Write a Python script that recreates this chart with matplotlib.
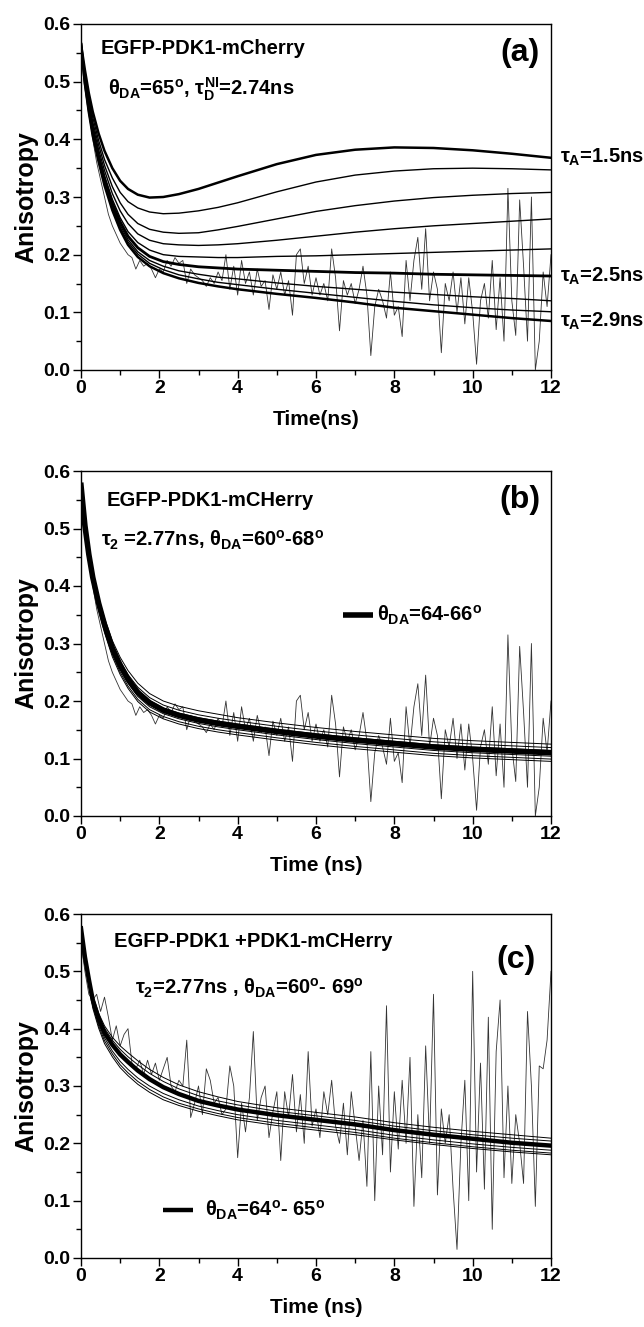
import matplotlib
matplotlib.use("Agg")
import matplotlib.pyplot as plt

FONT = "Liberation Sans"
plt.rcParams['font.family'] = [FONT, 'DejaVu Sans']
plt.rcParams['font.weight'] = 'bold'
plt.rcParams['mathtext.fontset'] = 'custom'
plt.rcParams['mathtext.rm'] = FONT + ':bold'
plt.rcParams['mathtext.it'] = FONT + ':bold'
plt.rcParams['mathtext.bf'] = FONT + ':bold'

# ---------------- data ----------------
t_fit = [0, 0.1, 0.2, 0.3, 0.45, 0.6, 0.8, 1.0, 1.2, 1.45, 1.75, 2.1, 2.5, 3.0, 3.5, 4, 5, 6, 7, 8, 9, 10, 11, 12]

# panel (a): model curves, tau_A = 1.5 ns (top) ... 2.9 ns (bottom)
a_tau15 = [0.565, 0.52, 0.48, 0.448, 0.41, 0.38, 0.35, 0.328, 0.314, 0.304, 0.299, 0.300, 0.305, 0.314, 0.325, 0.336, 0.357, 0.373, 0.382, 0.386, 0.385, 0.381, 0.375, 0.368]
a_c2 = [0.565, 0.515, 0.472, 0.438, 0.398, 0.365, 0.333, 0.308, 0.292, 0.281, 0.274, 0.271, 0.272, 0.276, 0.282, 0.29, 0.309, 0.326, 0.338, 0.345, 0.349, 0.35, 0.349, 0.347]
a_c3 = [0.565, 0.51, 0.467, 0.43, 0.39, 0.355, 0.318, 0.29, 0.27, 0.254, 0.244, 0.239, 0.237, 0.238, 0.243, 0.249, 0.262, 0.275, 0.285, 0.293, 0.299, 0.303, 0.306, 0.308]
a_c4 = [0.565, 0.507, 0.462, 0.424, 0.382, 0.346, 0.306, 0.276, 0.254, 0.236, 0.225, 0.219, 0.217, 0.216, 0.217, 0.219, 0.225, 0.232, 0.239, 0.245, 0.25, 0.254, 0.258, 0.262]
a_c5 = [0.565, 0.503, 0.457, 0.418, 0.375, 0.337, 0.296, 0.264, 0.24, 0.221, 0.208, 0.2, 0.197, 0.196, 0.195, 0.195, 0.197, 0.198, 0.2, 0.202, 0.204, 0.206, 0.208, 0.21]
a_tau25 = [0.565, 0.50, 0.453, 0.413, 0.37, 0.331, 0.289, 0.257, 0.232, 0.212, 0.197, 0.188, 0.183, 0.179, 0.177, 0.175, 0.173, 0.171, 0.169, 0.168, 0.166, 0.165, 0.164, 0.163]
a_c7 = [0.565, 0.50, 0.452, 0.411, 0.367, 0.327, 0.284, 0.251, 0.226, 0.205, 0.19, 0.18, 0.172, 0.166, 0.161, 0.158, 0.151, 0.145, 0.14, 0.135, 0.131, 0.127, 0.124, 0.12]
a_c8 = [0.565, 0.498, 0.45, 0.409, 0.364, 0.324, 0.281, 0.247, 0.222, 0.201, 0.185, 0.174, 0.165, 0.158, 0.152, 0.148, 0.14, 0.133, 0.126, 0.119, 0.113, 0.108, 0.104, 0.101]
a_tau29 = [0.565, 0.496, 0.447, 0.406, 0.361, 0.32, 0.277, 0.243, 0.217, 0.196, 0.18, 0.168, 0.159, 0.151, 0.145, 0.14, 0.132, 0.125, 0.117, 0.108, 0.102, 0.096, 0.09, 0.085]

# measured anisotropy (same data in a and b), 0.1 ns steps
t_data = [i / 10 for i in range(121)]
r_ab = [0.57, 0.50, 0.45, 0.40, 0.36, 0.33, 0.30, 0.27, 0.25, 0.235,
        0.22, 0.21, 0.20, 0.195, 0.175, 0.19, 0.18, 0.185, 0.175, 0.16,
        0.175, 0.17, 0.19, 0.18, 0.195, 0.185, 0.19, 0.15, 0.175, 0.165,
        0.16, 0.155, 0.145, 0.16, 0.15, 0.17, 0.155, 0.20, 0.14, 0.18,
        0.13, 0.19, 0.15, 0.17, 0.13, 0.175, 0.145, 0.155, 0.105, 0.165,
        0.14, 0.17, 0.13, 0.155, 0.095, 0.20, 0.21, 0.15, 0.18, 0.13,
        0.16, 0.13, 0.15, 0.12, 0.21, 0.16, 0.068, 0.155, 0.13, 0.15,
        0.115, 0.14, 0.18, 0.13, 0.025, 0.11, 0.14, 0.12, 0.09, 0.17,
        0.095, 0.11, 0.058, 0.19, 0.12, 0.19, 0.23, 0.14, 0.245, 0.12,
        0.17, 0.14, 0.03, 0.15, 0.12, 0.17, 0.10, 0.16, 0.08, 0.16,
        0.10, 0.01, 0.12, 0.15, 0.09, 0.19, 0.07, 0.16, 0.05, 0.315,
        0.12, 0.06, 0.295, 0.18, 0.05, 0.30, 0.0, 0.05, 0.17, 0.11, 0.20]

# panel (b): fits for theta_DA = 60-68 deg (thin) and 64-66 deg (thick)
b_thin1 = [0.575, 0.508, 0.46, 0.422, 0.379, 0.344, 0.305, 0.276, 0.253, 0.231, 0.213, 0.2, 0.191, 0.183, 0.177, 0.171, 0.162, 0.154, 0.147, 0.141, 0.135, 0.131, 0.128, 0.125]
b_thin2 = [0.575, 0.507, 0.458, 0.419, 0.375, 0.339, 0.299, 0.27, 0.246, 0.224, 0.206, 0.193, 0.184, 0.176, 0.17, 0.165, 0.156, 0.148, 0.141, 0.135, 0.129, 0.125, 0.122, 0.119]
b_thin3 = [0.575, 0.506, 0.456, 0.417, 0.372, 0.336, 0.295, 0.266, 0.242, 0.219, 0.201, 0.188, 0.179, 0.171, 0.165, 0.16, 0.151, 0.143, 0.136, 0.13, 0.124, 0.12, 0.117, 0.114]
b_thin4 = [0.575, 0.504, 0.453, 0.412, 0.366, 0.328, 0.286, 0.255, 0.231, 0.208, 0.19, 0.178, 0.169, 0.161, 0.155, 0.15, 0.141, 0.133, 0.126, 0.12, 0.114, 0.11, 0.107, 0.104]
b_thin5 = [0.575, 0.503, 0.451, 0.409, 0.362, 0.323, 0.281, 0.25, 0.226, 0.203, 0.185, 0.173, 0.164, 0.156, 0.15, 0.145, 0.136, 0.128, 0.121, 0.115, 0.109, 0.105, 0.102, 0.099]
b_thin6 = [0.575, 0.502, 0.449, 0.407, 0.359, 0.319, 0.277, 0.246, 0.222, 0.199, 0.181, 0.169, 0.16, 0.152, 0.146, 0.141, 0.132, 0.124, 0.117, 0.111, 0.105, 0.101, 0.098, 0.095]
b_best = [0.575, 0.505, 0.455, 0.415, 0.37, 0.333, 0.292, 0.262, 0.238, 0.215, 0.197, 0.184, 0.175, 0.167, 0.161, 0.156, 0.147, 0.139, 0.132, 0.126, 0.12, 0.116, 0.113, 0.11]

# panel (c)
c_thin1 = [0.575, 0.53, 0.492, 0.458, 0.427, 0.405, 0.385, 0.37, 0.358, 0.344, 0.329, 0.315, 0.302, 0.29, 0.281, 0.273, 0.262, 0.254, 0.246, 0.236, 0.228, 0.221, 0.215, 0.209]
c_thin2 = [0.575, 0.528, 0.49, 0.455, 0.424, 0.401, 0.38, 0.364, 0.351, 0.337, 0.322, 0.308, 0.295, 0.283, 0.274, 0.267, 0.256, 0.248, 0.24, 0.23, 0.222, 0.215, 0.209, 0.204]
c_thin3 = [0.575, 0.522, 0.48, 0.443, 0.409, 0.384, 0.361, 0.343, 0.329, 0.314, 0.3, 0.287, 0.276, 0.265, 0.257, 0.25, 0.24, 0.232, 0.224, 0.214, 0.206, 0.199, 0.193, 0.188]
c_thin4 = [0.575, 0.52, 0.477, 0.44, 0.405, 0.379, 0.356, 0.337, 0.323, 0.308, 0.294, 0.281, 0.27, 0.26, 0.252, 0.245, 0.235, 0.227, 0.219, 0.209, 0.201, 0.194, 0.188, 0.183]
c_thin5 = [0.575, 0.518, 0.474, 0.436, 0.401, 0.374, 0.351, 0.332, 0.318, 0.303, 0.289, 0.276, 0.266, 0.256, 0.248, 0.241, 0.231, 0.223, 0.215, 0.206, 0.198, 0.191, 0.185, 0.18]
c_best = [0.575, 0.525, 0.486, 0.45, 0.418, 0.393, 0.372, 0.355, 0.342, 0.327, 0.312, 0.298, 0.286, 0.274, 0.266, 0.259, 0.249, 0.241, 0.233, 0.223, 0.215, 0.208, 0.201, 0.196]

r_c = [0.55, 0.50, 0.46, 0.45, 0.46, 0.43, 0.455, 0.42, 0.38, 0.405,
       0.37, 0.39, 0.40, 0.34, 0.33, 0.345, 0.32, 0.345, 0.32, 0.34,
       0.31, 0.33, 0.35, 0.30, 0.29, 0.31, 0.30, 0.38, 0.245, 0.27,
       0.30, 0.25, 0.33, 0.31, 0.27, 0.28, 0.25, 0.26, 0.335, 0.30,
       0.175, 0.27, 0.22, 0.28, 0.395, 0.24, 0.28, 0.30, 0.21, 0.255,
       0.29, 0.17, 0.29, 0.245, 0.32, 0.22, 0.285, 0.20, 0.36, 0.23,
       0.26, 0.21, 0.29, 0.25, 0.31, 0.23, 0.20, 0.27, 0.18, 0.29,
       0.23, 0.17, 0.24, 0.125, 0.36, 0.10, 0.30, 0.18, 0.44, 0.15,
       0.29, 0.19, 0.31, 0.20, 0.35, 0.09, 0.25, 0.14, 0.37, 0.20,
       0.46, 0.11, 0.26, 0.20, 0.25, 0.12, 0.015, 0.20, 0.31, 0.10,
       0.50, 0.15, 0.34, 0.12, 0.42, 0.05, 0.36, 0.45, 0.14, 0.30,
       0.13, 0.25, 0.20, 0.13, 0.43, 0.30, 0.09, 0.335, 0.33, 0.38, 0.50]

x_ticks = [0, 2, 4, 6, 8, 10, 12]
y_ticks = [0.0, 0.1, 0.2, 0.3, 0.4, 0.5, 0.6]

# ---------------- figure ----------------
W, H = 644, 1327
fig = plt.figure(figsize=(W / 100, H / 100), dpi=100)

def make_axes(top_px, bot_px):
    return fig.add_axes([81 / W, 1 - bot_px / H, 470 / W, (bot_px - top_px) / H])

def style(ax, xlabel):
    ax.set_xlim(0, 12)
    ax.set_ylim(0, 0.6)
    ax.set_xticks(x_ticks)
    ax.set_yticks(y_ticks)
    ax.set_xticks([1, 3, 5, 7, 9, 11], minor=True)
    ax.set_yticks([0.05, 0.15, 0.25, 0.35, 0.45, 0.55], minor=True)
    ax.set_yticklabels([f"{v:.1f}" for v in y_ticks])
    ax.tick_params(which='major', direction='out', length=6, width=1.0,
                   labelsize=14, top=False, right=False, pad=1.5)
    ax.tick_params(which='minor', direction='out', length=3.5, width=1.0,
                   top=False, right=False)
    for lab in ax.get_xticklabels() + ax.get_yticklabels():
        lab.set_fontweight('bold')
    for s in ax.spines.values():
        s.set_linewidth(1.0)
    ax.set_xlabel(xlabel, fontsize=15, fontweight='bold', labelpad=9)
    ax.set_ylabel("Anisotropy", fontsize=18, fontweight='bold', labelpad=4)

FS = 14.5

# panel (a)
ax = make_axes(24, 370)
ax.plot(t_data, r_ab, color='#333333', lw=0.6)
for ys, lw in [(a_tau15, 1.8), (a_c2, 1.0), (a_c3, 1.0), (a_c4, 1.0), (a_c5, 1.0),
               (a_tau25, 2.0), (a_c7, 1.0), (a_c8, 1.0), (a_tau29, 1.8)]:
    ax.plot(t_fit, ys, color='black', lw=lw)
style(ax, "Time(ns)")
ax.text(0.5, 0.558, "EGFP-PDK1-mCherry", fontsize=FS, fontweight='bold', va='center')
ax.text(0.7, 0.486, r"$\theta_{DA}$=65$^{o}$, $\tau_{D}^{NI}$=2.74ns", fontsize=FS, va='center')
ax.text(11.72, 0.55, "(a)", fontsize=23, fontweight='bold', va='center', ha='right')
for yv, s in [(a_tau15[-1], r"$\tau_{A}$=1.5ns"), (a_tau25[-1], r"$\tau_{A}$=2.5ns"), (a_tau29[-1], r"$\tau_{A}$=2.9ns")]:
    ax.text(12.22, yv, s, fontsize=FS, va='center', ha='left', clip_on=False)

# panel (b)
ax = make_axes(471, 816)
ax.plot(t_data, r_ab, color='#333333', lw=0.6)
for ys in [b_thin1, b_thin2, b_thin3, b_thin4, b_thin5, b_thin6]:
    ax.plot(t_fit, ys, color='black', lw=0.7)
ax.plot(t_fit, b_best, color='black', lw=4.0)
style(ax, "Time (ns)")
ax.text(0.66, 0.549, "EGFP-PDK1-mCHerry", fontsize=FS, fontweight='bold', va='center')
ax.text(0.5, 0.479, r"$\tau_{2}$ =2.77ns, $\theta_{DA}$=60$^{o}$-68$^{o}$", fontsize=FS, va='center')
ax.text(11.72, 0.549, "(b)", fontsize=23, fontweight='bold', va='center', ha='right')
ax.plot([6.7, 7.45], [0.349, 0.349], color='black', lw=4.0, solid_capstyle='butt')
ax.text(7.55, 0.349, r"$\theta_{DA}$=64-66$^{o}$", fontsize=FS, va='center')

# panel (c)
ax = make_axes(914, 1258)
ax.plot(t_data, r_c, color='#333333', lw=0.6)
for ys in [c_thin1, c_thin2, c_thin3, c_thin4, c_thin5]:
    ax.plot(t_fit, ys, color='black', lw=0.7)
ax.plot(t_fit, c_best, color='black', lw=3.2)
style(ax, "Time (ns)")
ax.text(0.83, 0.552, "EGFP-PDK1 +PDK1-mCHerry", fontsize=FS, fontweight='bold', va='center')
ax.text(1.38, 0.47, r"$\tau_{2}$=2.77ns , $\theta_{DA}$=60$^{o}$- 69$^{o}$", fontsize=FS, va='center')
ax.text(11.6, 0.52, "(c)", fontsize=23, fontweight='bold', va='center', ha='right')
ax.plot([2.1, 2.85], [0.083, 0.083], color='black', lw=3.2, solid_capstyle='butt')
ax.text(3.17, 0.083, r"$\theta_{DA}$=64$^{o}$- 65$^{o}$", fontsize=FS, va='center')

fig.savefig("out.png", dpi=100)
